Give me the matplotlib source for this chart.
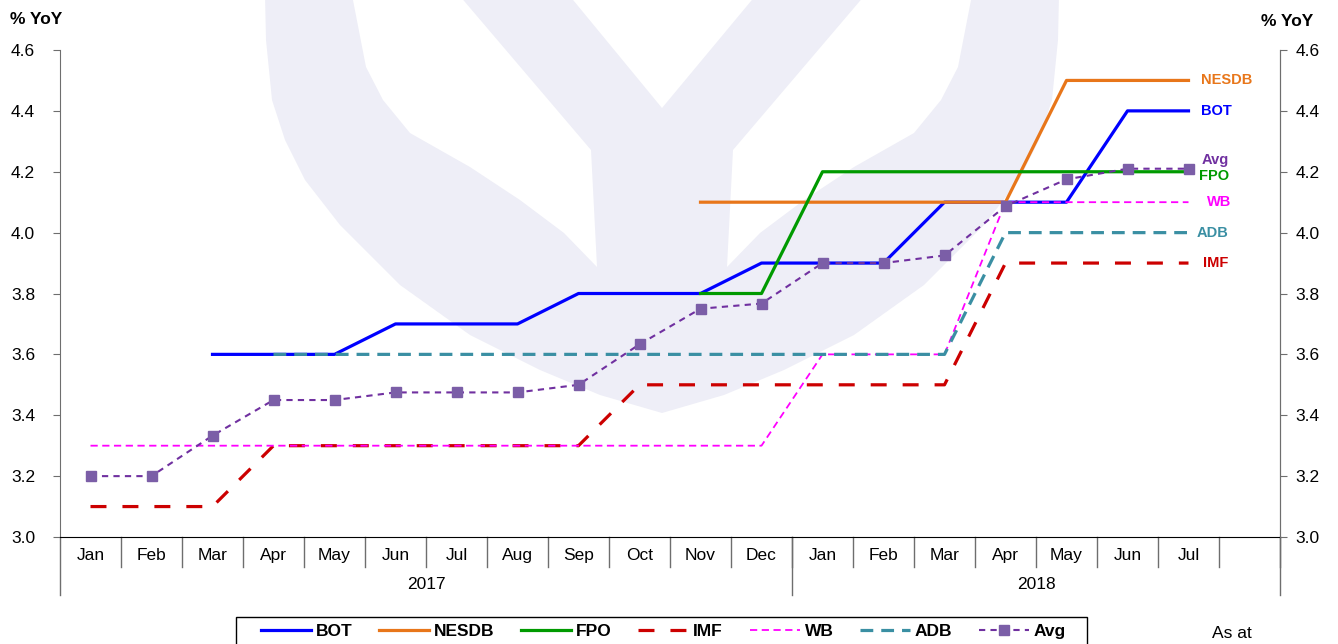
import numpy as np
import matplotlib
matplotlib.use('Agg')
import matplotlib.pyplot as plt
from matplotlib.patches import Polygon, Rectangle
from matplotlib.transforms import blended_transform_factory

# Data
months = ['Jan', 'Feb', 'Mar', 'Apr', 'May', 'Jun', 'Jul', 'Aug', 'Sep', 'Oct', 'Nov', 'Dec',
          'Jan', 'Feb', 'Mar', 'Apr', 'May', 'Jun', 'Jul']
years = ['2017', '2018']
nan = np.nan
bot = [nan, nan, 3.6, 3.6, 3.6, 3.7, 3.7, 3.7, 3.8, 3.8, 3.8, 3.9, 3.9, 3.9, 4.1, 4.1, 4.1, 4.4, 4.4]
nesdb = [nan] * 10 + [4.1, 4.1, 4.1, 4.1, 4.1, 4.1, 4.5, 4.5, 4.5]
fpo = [nan] * 10 + [3.8, 3.8, 4.2, 4.2, 4.2, 4.2, 4.2, 4.2, 4.2]
imf = [3.1, 3.1, 3.1, 3.3, 3.3, 3.3, 3.3, 3.3, 3.3, 3.5, 3.5, 3.5, 3.5, 3.5, 3.5, 3.9, 3.9, 3.9, 3.9]
wb = [3.3] * 12 + [3.6, 3.6, 3.6, 4.1, 4.1, 4.1, 4.1]
adb = [nan] * 3 + [3.6] * 12 + [4.0, 4.0, 4.0, 4.0]
avg = [3.2, 3.2, 3.333, 3.45, 3.45, 3.475, 3.475, 3.475, 3.5, 3.633, 3.75, 3.767,
       3.9, 3.9, 3.925, 4.087, 4.175, 4.21, 4.21]
end_labels = ['NESDB', 'BOT', 'Avg', 'FPO', 'WB', 'ADB', 'IMF']
end_label_y = [4.5, 4.4, 4.24, 4.186, 4.1, 4.0, 3.9]

plt.rcParams['font.family'] = ['Liberation Sans', 'DejaVu Sans']

W, H = 1338, 644
fig = plt.figure(figsize=(W / 100, H / 100), dpi=100)
ax = fig.add_axes([60 / W, 1 - 537 / H, 1220 / W, 487 / H])
ax.set_facecolor('none')

# faint watermark logo, in pixel coordinates
def px(pts):
    return [(x / W, 1 - y / H) for x, y in pts]

left_edge = [(265, -5), (266, 40), (272, 100), (285, 140), (305, 180), (340, 225), (400, 285),
             (470, 335), (540, 370), (600, 395), (662, 413)]
outer = left_edge + [(1324 - x, y) for x, y in reversed(left_edge[:-1])]
inner_l = [(352, -5), (459, -5), (591, 150), (597, 267), (564, 233), (520, 200), (470, 167),
           (410, 133), (383, 100), (366, 67)]
inner_r = [(1324 - x, y) for x, y in inner_l]
notch = [(569, -5), (756, -5), (662, 108)]
for pts, col in [(outer, '#EEEEF7'), (inner_l, 'white'), (inner_r, 'white'), (notch, 'white')]:
    fig.patches.append(Polygon(px(pts), closed=True, transform=fig.transFigure,
                               facecolor=col, edgecolor='none', zorder=-5))

x = np.arange(len(months))
h_bot, = ax.plot(x, bot, color='#0000FF', lw=2.3, label='BOT')
h_nesdb, = ax.plot(x, nesdb, color='#E8761A', lw=2.3, label='NESDB')
h_fpo, = ax.plot(x, fpo, color='#009A00', lw=2.3, label='FPO')
h_imf, = ax.plot(x, imf, color='#CC0000', lw=2.3, dashes=(5, 5), label='IMF')
h_wb, = ax.plot(x, wb, color='#FF00FF', lw=1.3, dashes=(4, 2.5), label='WB')
h_adb, = ax.plot(x, adb, color='#3A8FA3', lw=2.3, dashes=(4, 2.5), label='ADB')
h_avg, = ax.plot(x, avg, color='#7030A0', lw=1.5, dashes=(3, 2.5), marker='s', markersize=7,
                 markerfacecolor='#7B5EA7', markeredgecolor='#7B5EA7', label='Avg')

colors = {'NESDB': '#E8761A', 'BOT': '#0000FF', 'Avg': '#7030A0', 'FPO': '#009A00',
          'WB': '#FF00FF', 'ADB': '#3A8FA3', 'IMF': '#CC0000'}
offs = {'NESDB': 0.2, 'BOT': 0.2, 'Avg': 0.22, 'FPO': 0.17, 'WB': 0.3, 'ADB': 0.13, 'IMF': 0.23}
for name, yv in zip(end_labels, end_label_y):
    ax.text(18 + offs[name], yv, name, color=colors[name], fontsize=10.5, fontweight='bold',
            va='center', ha='left')

ticks = np.arange(3.0, 4.61, 0.2)
ax.set_xlim(-0.5, 19.5)
ax.set_ylim(3.0, 4.6)
ax.set_yticks(ticks)
ax.set_yticklabels([f'{v:.1f}' for v in ticks], fontsize=12.5)
ax.set_xticks([])
ax.spines['top'].set_visible(False)
ax.spines['left'].set_color('#6E6E6E')
ax.spines['right'].set_color('#6E6E6E')
ax.spines['bottom'].set_color('black')
ax.tick_params(axis='y', direction='out', length=5, color='#6E6E6E', pad=13)

ax2 = ax.twinx()
ax2.set_ylim(3.0, 4.6)
ax2.set_yticks(ticks)
ax2.set_yticklabels([f'{v:.1f}' for v in ticks], fontsize=12.5)
ax2.tick_params(axis='y', direction='out', length=5, color='#6E6E6E', pad=6)
for s in ['top', 'left', 'bottom']:
    ax2.spines[s].set_visible(False)
ax2.spines['right'].set_color('#6E6E6E')

fig.text(10 / W, 1 - 20 / H, '% YoY', fontsize=12.5, fontweight='bold', va='center')
fig.text(1261 / W, 1 - 22 / H, '% YoY', fontsize=12.5, fontweight='bold', va='center')

# category axis: month cells and year rows
tr = blended_transform_factory(ax.transData, ax.transAxes)
for i, m in enumerate(months):
    ax.text(i, -0.037, m, transform=tr, ha='center', va='center', fontsize=12.5)
for b in range(20):
    ax.plot([b + 0.5, b + 0.5], [0, -0.062], transform=tr, color='#6E6E6E', lw=1, clip_on=False)
for b in [-0.5, 11.5, 19.5]:
    ax.plot([b, b], [0, -0.12], transform=tr, color='#6E6E6E', lw=1, clip_on=False)
ax.text(5.5, -0.098, years[0], transform=tr, ha='center', va='center', fontsize=12.5)
ax.text(15.5, -0.098, years[1], transform=tr, ha='center', va='center', fontsize=12.5)

# legend: entries without frame, box drawn separately so it runs off the bottom edge
fs = 12.5
em = fs * 100 / 72
leg = fig.legend(handles=[h_bot, h_nesdb, h_fpo, h_imf, h_wb, h_adb, h_avg], ncol=7,
                 loc='center', bbox_to_anchor=(663.5 / W, 1 - 631 / H), frameon=False,
                 handlelength=50 / em, handletextpad=5 / em, columnspacing=26.5 / em,
                 borderpad=0, prop={'weight': 'bold', 'size': fs})
fig.patches.append(Rectangle((236 / W, -0.05), (1087 - 236) / W, 0.05 + 1 - 617 / H,
                             transform=fig.transFigure, facecolor='white', edgecolor='black',
                             lw=1, zorder=1))

fig.text(1212 / W, 1 - 634 / H, 'As at', fontsize=12.5, va='center')

fig.savefig('out.png', dpi=100)
